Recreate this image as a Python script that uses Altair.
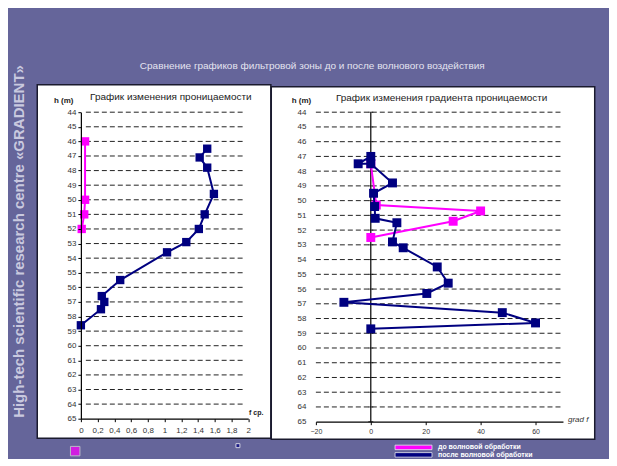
import altair as alt
import pandas as pd

# ---------------- data ----------------
h_levels = list(range(44, 66))
perm_ticks = [0, 0.2, 0.4, 0.6, 0.8, 1, 1.2, 1.4, 1.6, 1.8, 2]
grad_ticks = [-20, 0, 20, 40, 60]

perm_before_f = [0.05, 0.05, 0.04, 0.01]
perm_before_h = [46.0, 50.0, 51.0, 52.0]
perm_after_f = [1.51, 1.42, 1.51, 1.59, 1.48, 1.41, 1.26, 1.03, 0.47, 0.25, 0.28, 0.24, 0.0]
perm_after_h = [46.5, 47.1, 47.8, 49.6, 51.0, 52.0, 52.9, 53.6, 55.5, 56.6, 57.0, 57.5, 58.6]

grad_before_f = [0, 2, 40, 30, 0]
grad_before_h = [47.5, 50.3, 50.7, 51.4, 52.5]
grad_after_f = [0, -4.6, 0, 7.9, 1.0, 1.4, 1.6, 9.5, 7.9, 11.8, 24.2, 28.2, 20.4, -9.8, 47.9, 60, 0]
grad_after_h = [47.0, 47.5, 47.5, 48.8, 49.5, 50.4, 51.2, 51.5, 52.8, 53.2, 54.5, 55.6, 56.3, 56.9, 57.6, 58.3, 58.7]

main_title = "Сравнение графиков фильтровой зоны до и после волнового воздействия"
left_title = "График изменения проницаемости"
right_title = "График изменения градиента проницаемости"
side_caption = "High-tech scientific research centre «GRADIENT»"
series_labels = ["до волновой обработки", "после волновой обработки"]
y_label = "h (m)"
left_x_label = "f ср."
right_x_label = "grad f"

PINK = "#ff00ff"
NAVY = "#000080"
BG = "#65659a"
FONT = "Liberation Sans"


def series_df(f, h):
    return pd.DataFrame({"f": f, "h": h, "i": list(range(len(f)))})


def one_row(text=""):
    return pd.DataFrame({"t": [text]})


def px_text(text, x, y, **kw):
    return alt.Chart(one_row(text)).mark_text(font=FONT, **kw).encode(
        x=alt.value(x), y=alt.value(y), text="t:N")


def px_rect(x, x2, y, y2, **kw):
    return alt.Chart(one_row()).mark_rect(**kw).encode(
        x=alt.value(x), x2=alt.value(x2), y=alt.value(y), y2=alt.value(y2))


def px_square(x, y, size, **kw):
    return alt.Chart(one_row()).mark_point(shape="square", filled=True, **kw).encode(
        x=alt.value(x), y=alt.value(y), size=alt.value(size))


W1, H1 = 167.6, 307
W2, H2 = 247.5, 310

y_scale = alt.Scale(domain=[44, 65], reverse=True, nice=False, zero=False)
left_x_scale = alt.Scale(domain=[0, 2], nice=False, zero=False)
right_x_scale = alt.Scale(domain=[-20, 70], nice=False, zero=False)

# ---------------- left panel ----------------
left_y = alt.Y("h:Q", scale=y_scale,
               axis=alt.Axis(values=h_levels, grid=False, zindex=2, domainColor="#000",
                             domainWidth=1.2, tickColor="#000", tickSize=3, labelFontSize=8,
                             labelColor="#333", labelPadding=2, labelFont=FONT,
                             labelOverlap=False,
                             title=y_label, titleAngle=0, titleX=-17.7, titleY=-11.5,
                             titleAlign="center", titleBaseline="middle", titleFontSize=8,
                             titleFontWeight="bold", titleColor="#222", titleFont=FONT))
left_x = alt.X("f:Q", scale=left_x_scale,
               axis=alt.Axis(values=perm_ticks,
                             labelExpr="replace(format(datum.value, '~g'), '.', ',')",
                             labelOverlap=False, labelBound=False, labelFlush=False,
                             grid=False, zindex=2, domainColor="#000", domainWidth=1.2,
                             tickColor="#000", tickSize=3, labelFontSize=8, labelColor="#333",
                             labelPadding=5, labelFont=FONT, title=left_x_label, titleX=168,
                             titleY=-6, titleAlign="left", titleBaseline="middle",
                             titleFontSize=7, titleFontWeight="bold", titleColor="#222",
                             titleFont=FONT))


def data_layers(f, h, color, x_enc, y_enc, size):
    df = series_df(f, h)
    base = alt.Chart(df)
    line = base.mark_line(color=color, strokeWidth=2).encode(x=x_enc, y=y_enc, order="i:Q")
    pts = base.mark_point(shape="square", filled=True, color=color, opacity=1, size=size).encode(
        x=x_enc, y=y_enc)
    return [line, pts]


def grid_layer(width, y_enc, x0=0):
    gdf = pd.DataFrame({"h": h_levels[:-1]})
    return alt.Chart(gdf).mark_rule(color="#222", strokeWidth=1, strokeDash=[5, 3]).encode(
        y=y_enc, x=alt.value(x0), x2=alt.value(width))


left_layers = [
    px_rect(-72.7, 528.3, -103.5, 345.5, color=BG),
    px_rect(-43.7, 190.3, -27.5, 326.5, fill="white", stroke="#1a1a2e", strokeWidth=1.5),
    px_text(main_title, 231.8, -46.5, fontSize=10, color="#e4e4f0", align="center",
            baseline="middle"),
    px_text(side_caption, -61.7, 129.5, fontSize=15, fontWeight="bold", color="#c9c9df",
            align="center", baseline="middle", angle=270),
    px_text(left_title, 90.1, -14.8, fontSize=10, color="#222", align="center",
            baseline="middle"),
    px_square(-5.7, 339.5, 90, color=PINK, stroke="#dddddd", strokeWidth=1),
    px_square(157.3, 334, 16, color=NAVY, stroke="#ffffff", strokeWidth=1),
    grid_layer(W1 - 3, left_y, 5),
]
left_layers += data_layers(perm_before_f, perm_before_h, PINK, left_x, left_y, 70)
left_layers += data_layers(perm_after_f, perm_after_h, NAVY, left_x, left_y, 70)

left = alt.layer(*left_layers).properties(width=W1, height=H1)

# ---------------- right panel ----------------
right_y = alt.Y("h:Q", scale=y_scale,
                axis=alt.Axis(values=h_levels, grid=False, zindex=2, domain=False, ticks=False,
                              labelFontSize=8, labelColor="#333", labelPadding=10,
                              labelFont=FONT, labelOverlap=False,
                              title=y_label, titleAngle=0, titleX=-14.9,
                              titleY=-11.5, titleAlign="center", titleBaseline="middle",
                              titleFontSize=8, titleFontWeight="bold", titleColor="#222",
                              titleFont=FONT))
right_x = alt.X("f:Q", scale=right_x_scale,
                axis=alt.Axis(values=grad_ticks, grid=False, zindex=2, domainColor="#000",
                              domainWidth=1.2, tickColor="#000", tickSize=3, labelFontSize=7,
                              labelColor="#333", labelPadding=3, labelFont=FONT,
                              labelOverlap=False, labelFlush=False,
                              title=right_x_label, titleX=252, titleY=-2, titleAlign="left",
                              titleBaseline="middle", titleFontSize=8, titleFontStyle="italic",
                              titleFontWeight="normal", titleColor="#333", titleFont=FONT))

zero_df = pd.DataFrame({"f": [0]})
zero_rule = alt.Chart(zero_df).mark_rule(color="#000", strokeWidth=1.2).encode(
    x=alt.X("f:Q", scale=right_x_scale), y=alt.value(0), y2=alt.value(H2))
cross_df = pd.DataFrame({"f": [0] * len(h_levels), "h": h_levels})
cross = alt.Chart(cross_df).mark_tick(orient="horizontal", color="#000", size=5,
                                       thickness=1).encode(x=right_x, y=right_y)

right_layers = [
    px_rect(-44.7, 279.3, -25.5, 327.5, fill="white", stroke="#1a1a2e", strokeWidth=1.5),
    px_text(right_title, 126, -13.8, fontSize=10, color="#222", align="center",
            baseline="middle"),
    grid_layer(W2, right_y, 0),
    zero_rule,
    cross,
]
right_layers += data_layers(grad_before_f, grad_before_h, PINK, right_x, right_y, 80)
right_layers += data_layers(grad_after_f, grad_after_h, NAVY, right_x, right_y, 80)
right_layers += [
    px_rect(79.3, 116.3, 333.5, 338, color=PINK, stroke="#e8e8f0", strokeWidth=0.8),
    px_rect(79.3, 116.3, 341, 345.5, color=NAVY, stroke="#e8e8f0", strokeWidth=0.8),
    px_text(series_labels[0], 122.3, 335.8, fontSize=7, fontWeight="bold", color="#ffffff",
            align="left", baseline="middle"),
    px_text(series_labels[1], 122.3, 343.2, fontSize=7, fontWeight="bold", color="#ffffff",
            align="left", baseline="middle"),
]

right = alt.layer(*right_layers).properties(width=W2, height=H2)

chart = alt.hconcat(left, right).properties(
    bounds="flush", spacing=67.4, padding=0
).configure(background=BG).configure_view(strokeWidth=0)

chart.save("out.html", embed_options={"renderer": "svg", "actions": False})
